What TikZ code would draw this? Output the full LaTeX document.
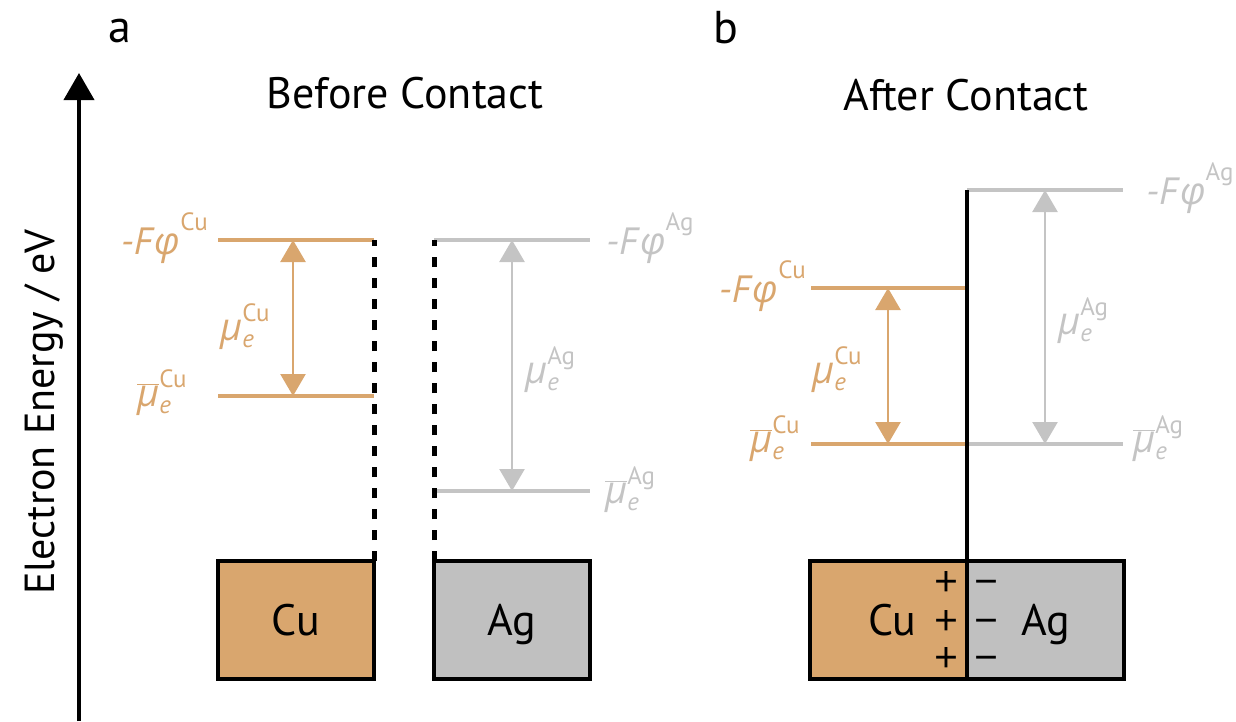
\documentclass[tikz,border=0pt]{standalone}
\usepackage{fontspec}
\usepackage{tikz}
\usetikzlibrary{arrows.meta}
\setmainfont{PT Sans}
\newfontfamily\grk{Open Sans}
\definecolor{cu}{HTML}{D9A66E}
\definecolor{ag}{HTML}{C4C4C4}
\definecolor{agbox}{HTML}{C0C0C0}
\newcommand{\supsz}{\fontsize{25}{25}\selectfont}
\newcommand{\wfn}[1]{\textit{-F}{\grk\itshape φ}\raisebox{0.62em}{\supsz #1}}
\newcommand{\chem}[2]{#1\rlap{\raisebox{-0.2em}{\supsz\itshape e}}\raisebox{0.5em}{\supsz #2}}
\newcommand{\mue}[1]{\chem{{\grk\itshape μ}}{#1}}
\newcommand{\mub}[1]{\chem{$\overline{\hbox{\grk\itshape μ}}$}{#1}}

\begin{document}
\begin{tikzpicture}[x=1pt,y=-1pt,
  lvl/.style={line width=4pt},
  gap/.style={{Triangle[width=25pt,length=22pt]}-{Triangle[width=25pt,length=22pt]},line width=2.5pt},
  junc/.style={line width=5pt,dash pattern=on 10pt off 11pt},
  metal/.style={draw=black,line width=4pt,outer sep=0pt,minimum height=118pt,text height=31pt,text depth=0pt,font=\fontsize{44}{44}\selectfont},
  sym/.style={inner sep=0pt,font=\fontsize{38}{38}\selectfont},
  sign/.style={inner sep=0pt,anchor=base,font=\grk\fontsize{42}{42}\selectfont},
  title/.style={inner sep=0pt,anchor=base,font=\fontsize{44}{44}\selectfont}]
  \useasboundingbox (0,0) rectangle (1236,721);

  \node[title,font=\fontsize{46}{46}\selectfont] (pa) at (120,42) {a};
  \node[title,font=\fontsize{46}{46}\selectfont] (pb) at (726,43) {b};
  \node[title] (ta) at (405,108) {Before Contact};
  \node[title] (tb) at (966,110) {After Contact};
  \node[title,rotate=90,font=\fontsize{42}{42}\selectfont] (ylab) at (54,412) {Electron Energy / eV};
  \coordinate (y0) at (79,721);
  \coordinate (y1) at (79,73);
  \draw[line width=4pt,-{Triangle[width=30pt,length=27pt]}] (y0) -- (y1);

  \node[metal,fill=cu,minimum width=156pt] (cuA) at (296,620) {Cu};
  \node[metal,fill=agbox,minimum width=156pt] (agA) at (512,620) {Ag};
  \node[metal,fill=cu,minimum width=157pt] (cuB) at (888.5,620) {\hspace*{8pt}Cu};
  \node[metal,fill=agbox,minimum width=157pt] (agB) at (1045.5,620) {Ag};

  \coordinate (aCuT) at (374,240);
  \coordinate (aCuB) at (374,396);
  \coordinate (aAgT) at (434,240);
  \coordinate (aAgB) at (434,491);
  \draw[lvl,cu] (218,240) -- (aCuT);
  \draw[lvl,cu] (218,396) -- (aCuB);
  \draw[lvl,ag] (aAgT) -- (590,240);
  \draw[lvl,ag] (aAgB) -- (590,491);
  \draw[junc] (cuA.north east) -- (aCuT);
  \draw[junc] (agA.north west) -- (aAgT);
  \coordinate (aCuT') at (293,240);
  \coordinate (aCuB') at (293,396);
  \coordinate (aAgT') at (512,240);
  \coordinate (aAgB') at (512,491);
  \draw[gap,cu] (aCuT') -- (aCuB');
  \draw[gap,ag] (aAgT') -- (aAgB');

  \node[sym,cu,anchor=base east] (wCuA) at (208,254) {\wfn{Cu}};
  \node[sym,cu,anchor=base west] (mCuA) at (220,340) {\mue{Cu}};
  \node[sym,cu,anchor=base west] (bCuA) at (137,406) {\mub{Cu}};
  \node[sym,ag,anchor=base west] (wAgA) at (606,254) {\wfn{Ag}};
  \node[sym,ag,anchor=base west] (mAgA) at (525,383) {\mue{Ag}};
  \node[sym,ag,anchor=base west] (bAgA) at (605,503) {\mub{Ag}};

  \coordinate (bAgT) at (967,190);
  \coordinate (bCuT) at (967,288);
  \coordinate (bMid) at (967,444);
  \draw[lvl,ag] (bAgT) -- (1123,190);
  \draw[lvl,cu] (811,288) -- (bCuT);
  \draw[lvl,cu] (811,444) -- (bMid);
  \draw[lvl,ag] (bMid) -- (1123,444);
  \draw[line width=4.5pt] (cuB.north east) -- (bAgT);
  \coordinate (bCuT') at (888,288);
  \coordinate (bCuB') at (888,444);
  \coordinate (bAgT') at (1045,190);
  \coordinate (bAgB') at (1045,444);
  \draw[gap,cu] (bCuT') -- (bCuB');
  \draw[gap,ag] (bAgT') -- (bAgB');

  \node[sym,cu,anchor=base east] (wCuB) at (806,302) {\wfn{Cu}};
  \node[sym,cu,anchor=base west] (mCuB) at (812,383) {\mue{Cu}};
  \node[sym,cu,anchor=base west] (bCuB) at (750,452) {\mub{Cu}};
  \node[sym,ag,anchor=base west] (wAgB) at (1146,204) {\wfn{Ag}};
  \node[sym,ag,anchor=base west] (mAgB) at (1058,334) {\mue{Ag}};
  \node[sym,ag,anchor=base west] (bAgB) at (1133,452) {\mub{Ag}};

  \foreach \i/\y in {1/596,2/635,3/672} {
    \node[sign] (p\i) at (946,\y) {+};
    \node[sign] (m\i) at (986,\y) {−};
  }
\end{tikzpicture}
\end{document}
